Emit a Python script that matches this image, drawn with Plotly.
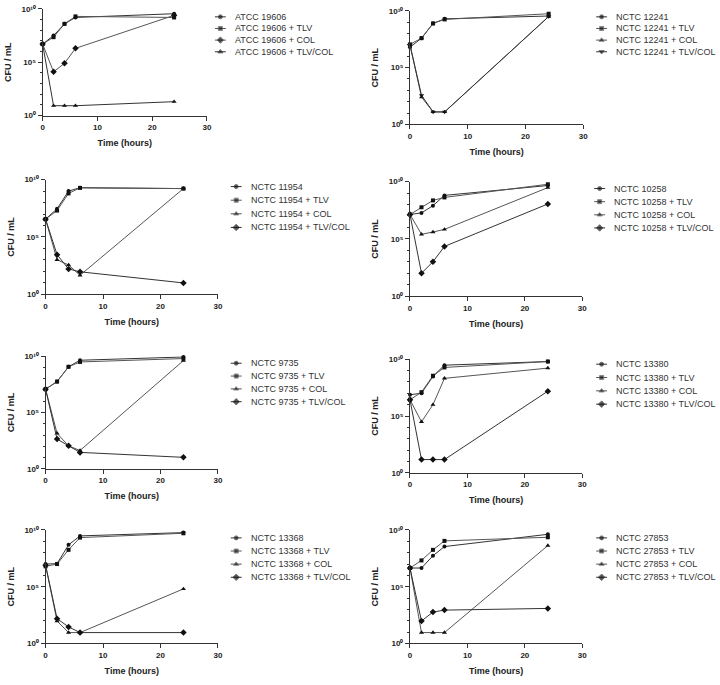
import plotly.graph_objects as go

W, H = 720, 685

time_h = [0, 2, 4, 6, 24]
strains = ["ATCC 19606", "NCTC 12241", "NCTC 11954", "NCTC 10258",
           "NCTC 9735", "NCTC 13380", "NCTC 13368", "NCTC 27853"]
suffixes = ["", " + TLV", " + COL", " + TLV/COL"]

# log10 CFU/mL
atcc19606_ctrl = [6.7, 7.5, 8.6, 9.2, 9.55]
atcc19606_tlv = [6.7, 7.35, 8.6, 9.3, 9.2]
atcc19606_col = [6.7, 4.1, 4.9, 6.3, 9.4]
atcc19606_tlvcol = [6.7, 0.92, 0.92, 0.92, 1.3]

nctc12241_ctrl = [6.8, 7.6, 8.9, 9.3, 9.55]
nctc12241_tlv = [7.05, 7.6, 8.9, 9.25, 9.75]
nctc12241_col = [7.0, 2.4, 1.1, 1.1, 9.5]
nctc12241_tlvcol = [7.0, 2.55, 1.1, 1.1, 9.5]

nctc11954_ctrl = [6.55, 7.45, 9.0, 9.3, 9.22]
nctc11954_tlv = [6.55, 7.3, 8.8, 9.28, 9.22]
nctc11954_col = [6.55, 3.0, 2.55, 1.65, 9.22]
nctc11954_tlvcol = [6.55, 3.45, 2.2, 1.95, 0.98]

nctc10258_ctrl = [7.13, 7.27, 7.9, 8.8, 9.66]
nctc10258_tlv = [7.13, 7.76, 8.36, 8.62, 9.77]
nctc10258_col = [7.13, 5.4, 5.6, 5.83, 9.48]
nctc10258_tlvcol = [7.13, 2.0, 3.0, 4.34, 8.05]

nctc9735_ctrl = [7.08, 7.75, 9.07, 9.65, 9.94]
nctc9735_tlv = [7.08, 7.75, 9.07, 9.5, 9.8]
nctc9735_col = [7.08, 3.15, 2.04, 1.63, 9.62]
nctc9735_tlvcol = [7.08, 2.65, 2.04, 1.46, 1.02]

nctc13380_ctrl = [6.87, 7.01, 8.49, 9.48, 9.8]
nctc13380_tlv = [6.43, 7.1, 8.55, 9.28, 9.8]
nctc13380_col = [6.43, 4.49, 6.0, 8.32, 9.22]
nctc13380_tlvcol = [6.43, 1.16, 1.16, 1.16, 7.19]

nctc13368_ctrl = [7.0, 7.03, 8.69, 9.48, 9.77]
nctc13368_tlv = [6.8, 7.0, 8.25, 9.33, 9.71]
nctc13368_col = [6.9, 1.98, 0.96, 0.96, 4.81]
nctc13368_tlvcol = [6.9, 2.19, 1.46, 0.96, 0.96]

nctc27853_ctrl = [6.65, 6.65, 7.73, 8.54, 9.62]
nctc27853_tlv = [6.65, 7.32, 8.25, 9.04, 9.36]
nctc27853_col = [6.65, 0.96, 0.96, 0.96, 8.63]
nctc27853_tlvcol = [6.65, 1.98, 2.77, 2.94, 3.09]

panel_series = [
    [atcc19606_ctrl, atcc19606_tlv, atcc19606_col, atcc19606_tlvcol],
    [nctc12241_ctrl, nctc12241_tlv, nctc12241_col, nctc12241_tlvcol],
    [nctc11954_ctrl, nctc11954_tlv, nctc11954_col, nctc11954_tlvcol],
    [nctc10258_ctrl, nctc10258_tlv, nctc10258_col, nctc10258_tlvcol],
    [nctc9735_ctrl, nctc9735_tlv, nctc9735_col, nctc9735_tlvcol],
    [nctc13380_ctrl, nctc13380_tlv, nctc13380_col, nctc13380_tlvcol],
    [nctc13368_ctrl, nctc13368_tlv, nctc13368_col, nctc13368_tlvcol],
    [nctc27853_ctrl, nctc27853_tlv, nctc27853_col, nctc27853_tlvcol],
]

x_ticks = [0, 10, 20, 30]
y_ticks = [1, 1e5, 1e10]
y_ticktext = ["10\u2070", "10\u2075", "10\u00b9\u2070"]

# ---- layout / style (pixels) ----
panel_px = [  # x0, x1, ytop, ybottom
    (41, 207, 5, 113),
    (412, 587, 7, 122),
    (44, 218, 178, 294),
    (412, 586, 180, 296),
    (44, 218, 357, 471),
    (412, 586, 360, 475),
    (44, 218, 533, 648),
    (412, 586, 533, 648),
]
legend_px = [  # text x, first row y, row spacing
    (233, 13, 11.8),
    (618, 13, 11.8),
    (249, 185, 13.8),
    (616, 187, 13.3),
    (249, 364, 13.0),
    (618, 365, 13.5),
    (249, 541, 13.3),
    (618, 541, 13.3),
]
sym_default = ["circle", "square", "triangle-up", "diamond"]
sym_p1 = ["circle", "square", "diamond", "triangle-up"]
sym_p2 = ["circle", "square", "triangle-up", "triangle-down"]
sym_size = {"circle": 4, "square": 4, "triangle-up": 4.5,
            "triangle-down": 4.5, "diamond": 5}
line_colors = ["#333333", "#555555", "#555555", "#333333"]
FONT = "Liberation Sans, Arial, sans-serif"
AX = "#333333"

fig = go.Figure()
annotations = []
layout = dict(
    width=W, height=H, margin=dict(l=0, r=0, t=0, b=0),
    paper_bgcolor="white", plot_bgcolor="rgba(0,0,0,0)", showlegend=False,
    font=dict(family=FONT, color="#222"),
)

for i, series in enumerate(panel_series):
    k = "" if i == 0 else str(i + 1)
    syms = sym_p1 if i == 0 else (sym_p2 if i == 1 else sym_default)
    x0, x1, yt, yb = panel_px[i]
    for j, vals in enumerate(series):
        fig.add_trace(go.Scatter(
            x=time_h, y=[10 ** v for v in vals], mode="lines+markers",
            name=strains[i] + suffixes[j],
            line=dict(color=line_colors[j], width=1),
            marker=dict(symbol=syms[j], size=sym_size[syms[j]], color="#111111"),
            xaxis="x" + k, yaxis="y" + k, cliponaxis=False,
        ))
    layout["xaxis" + k] = dict(
        domain=[x0 / W, x1 / W], anchor="y" + k, range=[0, 30],
        tickvals=x_ticks, ticks="outside", ticklen=4, tickcolor=AX,
        showline=True, linecolor=AX, linewidth=1, showgrid=False, zeroline=False,
        tickfont=dict(size=8, family=FONT, weight=700, color="#222"),
        title=dict(text="Time (hours)", standoff=8,
                   font=dict(size=9, family=FONT, weight=700, color="#222")),
    )
    layout["yaxis" + k] = dict(
        domain=[1 - yb / H, 1 - yt / H], anchor="x" + k, type="log", range=[0, 10],
        tickvals=y_ticks, ticktext=y_ticktext, ticks="outside", ticklen=4,
        tickcolor=AX, showline=True, linecolor=AX, linewidth=1, showgrid=False,
        zeroline=False,
        minor=dict(tickvals=[10 ** e for e in range(1, 10) if e != 5],
                   ticks="outside", ticklen=2, tickcolor=AX),
        tickfont=dict(size=8, family=FONT, weight=700, color="#222"),
        title=dict(text="CFU / mL", standoff=8,
                   font=dict(size=9, family=FONT, weight=700, color="#222")),
    )
    # legend entries
    tx, ty0, dy = legend_px[i]
    for j in range(4):
        ry = ty0 + j * dy
        fig.add_trace(go.Scatter(
            x=[tx - 18, tx - 12.5, tx - 7], y=[ry, ry, ry], mode="lines+markers",
            line=dict(color=line_colors[j], width=1),
            marker=dict(symbol=syms[j], color="#111111",
                        size=[0, sym_size[syms[j]], 0]),
            xaxis="x9", yaxis="y9", cliponaxis=False, hoverinfo="skip",
        ))
        annotations.append(dict(
            x=tx / W, y=1 - ry / H, xref="paper", yref="paper",
            xanchor="left", yanchor="middle", showarrow=False,
            text=strains[i] + suffixes[j],
            font=dict(size=9, family=FONT, color="#333"),
        ))

layout["xaxis9"] = dict(domain=[0, 1], range=[0, W], visible=False,
                        anchor="y9", fixedrange=True)
layout["yaxis9"] = dict(domain=[0, 1], range=[H, 0], visible=False,
                        anchor="x9", fixedrange=True)
layout["annotations"] = annotations
fig.update_layout(**layout)
fig.write_html(
    "out.html",
    config={"displayModeBar": False},
    post_script="document.body.style.margin='0';document.body.style.padding='0';"
                "var d=document.getElementById('{plot_id}');"
                "if(d&&d.parentElement){d.parentElement.style.margin='0';"
                "d.parentElement.style.lineHeight='0';}",
)
